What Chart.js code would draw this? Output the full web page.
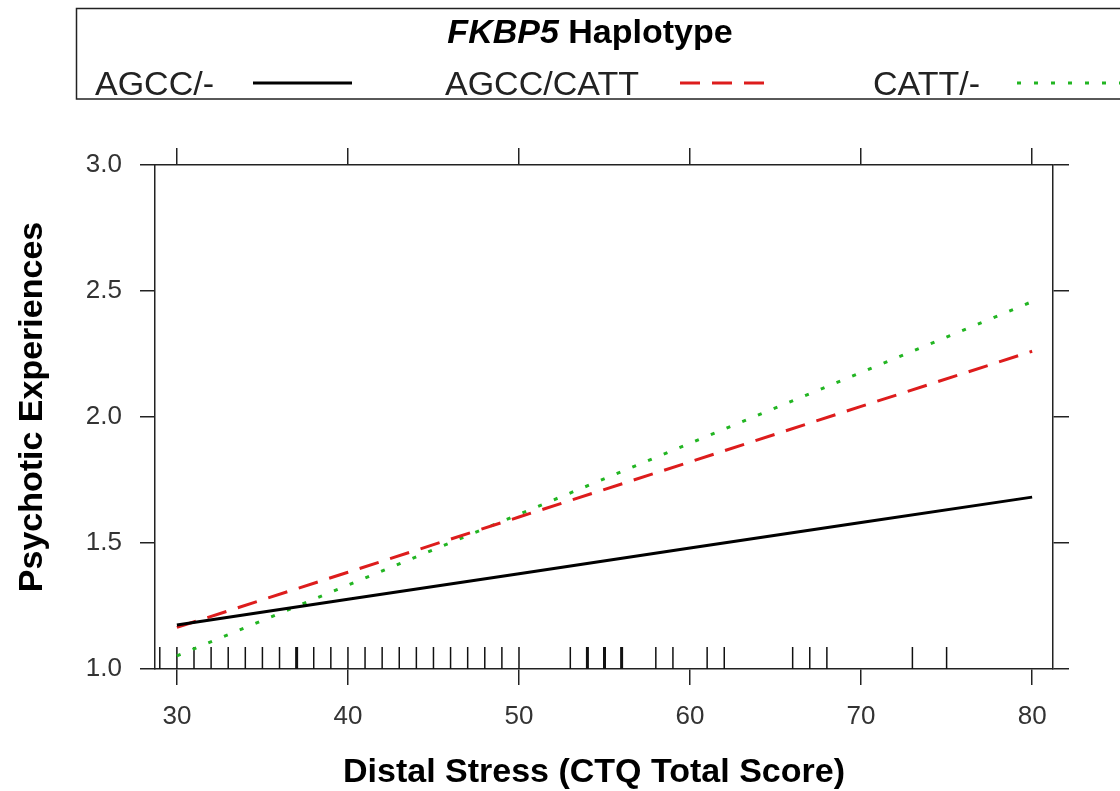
<!DOCTYPE html>
<html>
<head>
<meta charset="utf-8">
<script src="https://cdn.jsdelivr.net/npm/chart.js@4/dist/chart.umd.min.js"></script>
<style>
  body { margin: 0; background: #fff; }
  canvas { display: block; }
</style>
</head>
<body>
<canvas id="chart1" width="1120" height="791"></canvas>
<script>
// CTQ score grid the fitted effects were evaluated on
var ctqScores = [30, 40, 50, 60, 70, 80];

var agccNone = [1.175, 1.277, 1.378, 1.480, 1.581, 1.682];
var agccCatt = [1.165, 1.384, 1.603, 1.822, 2.042, 2.261];
var cattNone = [1.052, 1.333, 1.614, 1.896, 2.177, 2.458];

var haplotypes = ['AGCC/-', 'AGCC/CATT', 'CATT/-'];

// observed CTQ totals shown as a rug along the x axis
var rugScores = [29, 30, 31, 32, 33, 34, 35, 36, 37, 38, 39, 40, 41, 42, 43, 44, 45, 46, 47, 48, 49, 50,
                 53, 54, 55, 56, 58, 59, 61, 62, 66, 67, 68, 73, 75];
var rugHeavy = [37, 54, 55, 56];

var xTicks = [30, 40, 50, 60, 70, 80];
var yTicks = [1.0, 1.5, 2.0, 2.5, 3.0];

var xTitle = 'Distal Stress (CTQ Total Score)';
var yTitle = 'Psychotic Experiences';

var FONT = '"Liberation Sans", Arial, sans-serif';

function pairs(ys) {
  return ctqScores.map(function (x, i) { return { x: x, y: ys[i] }; });
}

var rugPlugin = {
  id: 'rug',
  beforeDatasetsDraw: function (chart) {
    var ctx = chart.ctx, xs = chart.scales.x, bottom = chart.chartArea.bottom;
    ctx.save();
    ctx.strokeStyle = '#111';
    rugScores.forEach(function (v) {
      var px = xs.getPixelForValue(v);
      ctx.lineWidth = rugHeavy.indexOf(v) >= 0 ? 3 : 1.5;
      ctx.beginPath();
      ctx.moveTo(px, bottom);
      ctx.lineTo(px, bottom - 22);
      ctx.stroke();
    });
    ctx.restore();
  }
};

// axis titles sit centred on the page rather than on the panel
var titlePlugin = {
  id: 'axisTitles',
  afterDraw: function (chart) {
    var ctx = chart.ctx;
    ctx.save();
    ctx.fillStyle = '#000';
    ctx.font = 'bold 34px ' + FONT;
    ctx.textAlign = 'center';
    ctx.textBaseline = 'middle';
    ctx.fillText(xTitle, 594, 773);
    ctx.translate(33, 407);
    ctx.rotate(-Math.PI / 2);
    ctx.fillText(yTitle, 0, 0);
    ctx.restore();
  }
};

// key box across the top: title, then label + line sample for each group
var keyPlugin = {
  id: 'key',
  afterDraw: function (chart) {
    var ctx = chart.ctx;
    ctx.save();
    ctx.strokeStyle = '#222';
    ctx.lineWidth = 1.5;
    ctx.strokeRect(76.5, 8.5, 1100, 90.5);

    ctx.fillStyle = '#000';
    ctx.textBaseline = 'alphabetic';
    var f1 = 'italic bold 34px ' + FONT, f2 = 'bold 34px ' + FONT;
    ctx.font = f1;
    var w1 = ctx.measureText('FKBP5').width;
    ctx.font = f2;
    var w2 = ctx.measureText(' Haplotype').width;
    var x0 = 590 - (w1 + w2) / 2;
    ctx.font = f1;
    ctx.fillText('FKBP5', x0, 43);
    ctx.font = f2;
    ctx.fillText(' Haplotype', x0 + w1, 43);

    var textX = [95, 445, 873];
    var lineX = [[253, 352], [680, 772], [1017, 1125]];
    ctx.font = '34px ' + FONT;
    chart.data.datasets.forEach(function (ds, i) {
      ctx.fillStyle = '#222';
      ctx.fillText(ds.label, textX[i], 95);
      ctx.strokeStyle = ds.borderColor;
      ctx.lineWidth = ds.borderWidth;
      ctx.setLineDash(ds.borderDash || []);
      ctx.beginPath();
      ctx.moveTo(lineX[i][0], 83);
      ctx.lineTo(lineX[i][1], 83);
      ctx.stroke();
      ctx.setLineDash([]);
    });
    ctx.restore();
  }
};

function axisGrid(len) {
  return { drawOnChartArea: false, drawTicks: true, tickLength: len, color: '#222', lineWidth: 1.5 };
}
var axisBorder = { display: true, color: '#222', width: 1.5 };

new Chart(document.getElementById('chart1'), {
  type: 'line',
  data: {
    datasets: [
      { label: haplotypes[0], data: pairs(agccNone), borderColor: '#000000', borderWidth: 3 },
      { label: haplotypes[1], data: pairs(agccCatt), borderColor: '#dd1c1c', borderWidth: 3, borderDash: [20, 12] },
      { label: haplotypes[2], data: pairs(cattNone), borderColor: '#22b522', borderWidth: 3, borderDash: [4, 13] }
    ]
  },
  options: {
    responsive: false,
    animation: false,
    layout: { padding: 0 },
    elements: { point: { radius: 0 }, line: { tension: 0, borderCapStyle: 'butt' } },
    plugins: { legend: { display: false }, tooltip: { enabled: false } },
    scales: {
      x: {
        type: 'linear', position: 'bottom', min: 28.72, max: 81.22,
        afterBuildTicks: function (s) { s.ticks = xTicks.map(function (v) { return { value: v }; }); },
        afterFit: function (s) { s.height = 122; },
        grid: axisGrid(16), border: axisBorder,
        ticks: { color: '#333', font: { family: FONT, size: 26 }, padding: 16, maxRotation: 0 }
      },
      x2: {
        type: 'linear', position: 'top', min: 28.72, max: 81.22,
        afterBuildTicks: function (s) { s.ticks = xTicks.map(function (v) { return { value: v }; }); },
        afterFit: function (s) { s.height = 165; },
        grid: axisGrid(17), border: axisBorder,
        ticks: { display: false }
      },
      y: {
        type: 'linear', position: 'left', min: 1, max: 3,
        afterBuildTicks: function (s) { s.ticks = yTicks.map(function (v) { return { value: v }; }); },
        afterFit: function (s) { s.width = 155; },
        grid: axisGrid(15), border: axisBorder,
        ticks: { color: '#333', font: { family: FONT, size: 26 }, padding: 18,
                 callback: function (v) { return v.toFixed(1); } }
      },
      y2: {
        type: 'linear', position: 'right', min: 1, max: 3,
        afterBuildTicks: function (s) { s.ticks = yTicks.map(function (v) { return { value: v }; }); },
        afterFit: function (s) { s.width = 67; },
        grid: axisGrid(16), border: axisBorder,
        ticks: { display: false }
      }
    }
  },
  plugins: [rugPlugin, titlePlugin, keyPlugin]
});
</script>
</body>
</html>
